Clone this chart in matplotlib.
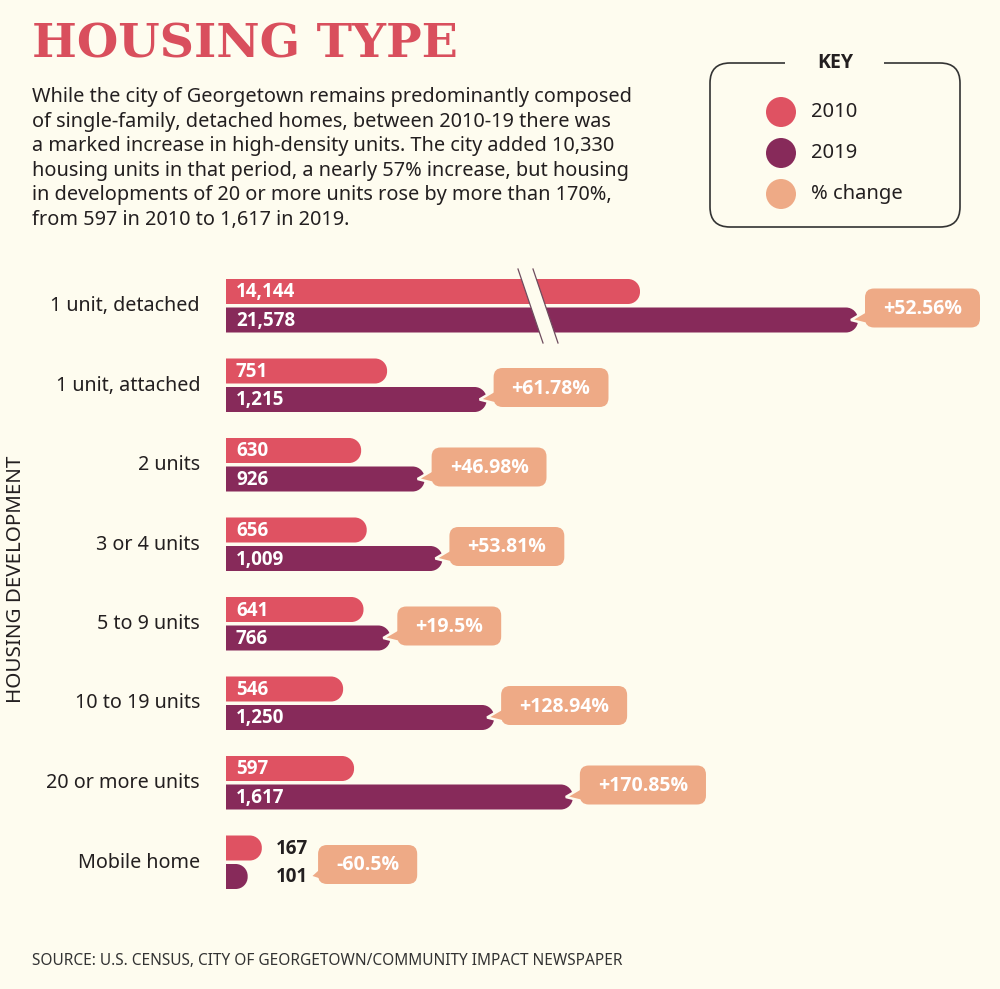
import numpy as np
import matplotlib
matplotlib.use("Agg")
import matplotlib.pyplot as plt
from matplotlib.path import Path
from matplotlib.patches import PathPatch, FancyBboxPatch, Circle, Polygon, Rectangle
from matplotlib.lines import Line2D
from matplotlib.transforms import Affine2D

W, H = 1000, 989
BG = "#fefcef"
C2010 = "#df5262"
C2019 = "#872a5a"
CPCT = "#eeaa86"
INK = "#231f20"
TITLE_RED = "#d94f5d"
FONT = "Noto Sans"
BOLD = ["Open Sans", "Lato", "DejaVu Sans"]

# Datos
categories = ["1 unit, detached", "1 unit, attached", "2 units", "3 or 4 units",
              "5 to 9 units", "10 to 19 units", "20 or more units", "Mobile home"]
units_2010 = [14144, 751, 630, 656, 641, 546, 597, 167]
units_2019 = [21578, 1215, 926, 1009, 766, 1250, 1617, 101]
pct_change = ["+52.56%", "+61.78%", "+46.98%", "+53.81%", "+19.5%",
              "+128.94%", "+170.85%", "-60.5%"]
key_labels = ["2010", "2019", "% change"]
key_colors = [C2010, C2019, CPCT]

title = "HOUSING TYPE"
body_lines = [
    "While the city of Georgetown remains predominantly composed",
    "of single-family, detached homes, between 2010-19 there was",
    "a marked increase in high-density units. The city added 10,330",
    "housing units in that period, a nearly 57% increase, but housing",
    "in developments of 20 or more units rose by more than 170%,",
    "from 597 in 2010 to 1,617 in 2019.",
]
y_label = "HOUSING DEVELOPMENT"
source = "SOURCE: U.S. CENSUS, CITY OF GEORGETOWN/COMMUNITY IMPACT NEWSPAPER"

# Layout (pixeles desde arriba)
BAR_X0 = 226
ROW0 = 306
ROW_STEP = 79.5
BAR_H = 25
PX_PER_UNIT = 0.2145

# Eje x con corte: lineal hasta 1700, luego comprimido
knots_v = np.array([0, 1700, 14144, 21578, 30000], dtype=float)
knots_p = np.array([0, 1700 * PX_PER_UNIT, 414, 632, 632 + 8422 * (218 / 7434)])


def fwd(v):
    return np.interp(v, knots_v, knots_p)


def inv(p):
    return np.interp(p, knots_p, knots_v)


fig = plt.figure(figsize=(W / 100, H / 100), dpi=100)
fig.patch.set_facecolor(BG)
PX = Affine2D().scale(1, -1).translate(0, H)

bax = fig.add_axes([BAR_X0 / W, 0, 1 - BAR_X0 / W, 1])
bax.set_xscale("function", functions=(fwd, inv))
bax.set_xlim(0, inv(W - BAR_X0))
bax.set_ylim(H, 0)
bax.axis("off")

renderer = fig.canvas.get_renderer()


def text_px(x, y, s, **kw):
    return fig.text(x, y, s, transform=PX, **kw)


def width_px(t):
    return t.get_window_extent(renderer=renderer).width


def bar_path(x0, x1, yt, yb, r):
    r = min(r, x1 - x0, (yb - yt) / 2)
    k = 0.5523 * r
    verts = [(x0, yt), (x1 - r, yt), (x1 - r + k, yt), (x1, yt + r - k), (x1, yt + r),
             (x1, yb - r), (x1, yb - r + k), (x1 - r + k, yb), (x1 - r, yb),
             (x0, yb), (x0, yt)]
    codes = [Path.MOVETO, Path.LINETO, Path.CURVE4, Path.CURVE4, Path.CURVE4,
             Path.LINETO, Path.CURVE4, Path.CURVE4, Path.CURVE4,
             Path.LINETO, Path.CLOSEPOLY]
    return Path(verts, codes)


def x_of(v):
    return bax.transData.transform((v, 0))[0]


# Titulo
t = text_px(32, 58, title, family="DejaVu Serif", fontweight="bold",
            fontsize=36, color=TITLE_RED, va="baseline")
t.set_fontsize(36 * 426 / width_px(t))

for i, line in enumerate(body_lines):
    text_px(32, 102 + i * 24.6, line, family=FONT, fontsize=14.35, color=INK, va="baseline")

# Leyenda
fig.add_artist(FancyBboxPatch((710, 63), 250, 164, boxstyle="round,pad=0,rounding_size=20",
                              transform=PX, fill=False, ec="#333333", lw=1.2))
fig.add_artist(Rectangle((785, 55), 99, 16, transform=PX, fc=BG, ec="none"))
text_px(835, 63, "KEY", family=BOLD, fontweight="bold", fontsize=14, color=INK,
        ha="center", va="center")
for j, (lab, col) in enumerate(zip(key_labels, key_colors)):
    yk = 112 + j * 41
    fig.add_artist(Circle((781, yk), 15, transform=PX, fc=col, ec="none"))
    text_px(811, yk, lab, family=FONT, fontsize=14.5, color=INK, va="center")

# Barras
for i, cat in enumerate(categories):
    rc = ROW0 + i * ROW_STEP
    text_px(200, rc, cat, family=FONT, fontsize=14.2, color=INK, ha="right", va="center")

    ends = []
    label_end = None
    for val, col, yc in ((units_2010[i], C2010, rc - 14.5), (units_2019[i], C2019, rc + 14)):
        xe = x_of(val)
        ends.append(xe)
        fig.add_artist(PathPatch(bar_path(BAR_X0, xe, yc - BAR_H / 2, yc + BAR_H / 2, 12),
                                 transform=PX, fc=col, ec="none"))
    inside = min(ends) - BAR_X0 > 60
    for val, xe, yc in ((units_2010[i], ends[0], rc - 14.5), (units_2019[i], ends[1], rc + 14)):
        if inside:
            text_px(BAR_X0 + 10, yc + 1, f"{val:,}", family=BOLD, fontweight="bold",
                    fontsize=13.5, color="white", va="center")
        else:
            tl = text_px(max(ends) + 14, yc + 1, f"{val:,}", family=BOLD, fontweight="bold",
                         fontsize=13.5, color=INK, va="center")
            label_end = max(label_end or 0, max(ends) + 14 + width_px(tl))

    # Burbuja de % de cambio
    tip_y = rc + 14
    if inside:
        tip_x = ends[1] - 7
        bl = ends[1] + 7
    else:
        tip_x = label_end + 2
        bl = label_end + 10
    bt, bh = rc + 2 - 19.5, 39
    tp = text_px(0, rc + 3, pct_change[i], family=BOLD, fontweight="bold", fontsize=14,
                 color="white", ha="center", va="center", zorder=5)
    bw = width_px(tp) + 36
    tp.set_x(bl + bw / 2)
    bb = bt + bh
    fig.add_artist(Polygon([(bl + 3, tip_y - 10), (bl + 12, bb - 1), (tip_x, tip_y)],
                           closed=True, transform=PX, fc=CPCT, ec=BG, lw=1.8, zorder=3))
    fig.add_artist(FancyBboxPatch((bl, bt), bw, bh, boxstyle="round,pad=0,rounding_size=9",
                                  transform=PX, fc=CPCT, ec="none", zorder=4))

# Marca de corte en la primera fila
fig.add_artist(Polygon([(518, 269), (533, 269), (558, 343), (543, 343)], closed=True,
                       transform=PX, fc=BG, ec="none", zorder=2))
for xa, xb in ((518, 543), (533, 558)):
    fig.add_artist(Line2D([xa, xb], [269, 343], transform=PX, color="#6e4c5e", lw=0.9, zorder=2))

text_px(16, 579, y_label, family=FONT, fontsize=14.8, color=INK, rotation=90,
        ha="center", va="center")
text_px(32, 965, source, family=FONT, fontsize=11.1, color="#333333", va="baseline")

fig.savefig("out.png", dpi=100, facecolor=BG)
